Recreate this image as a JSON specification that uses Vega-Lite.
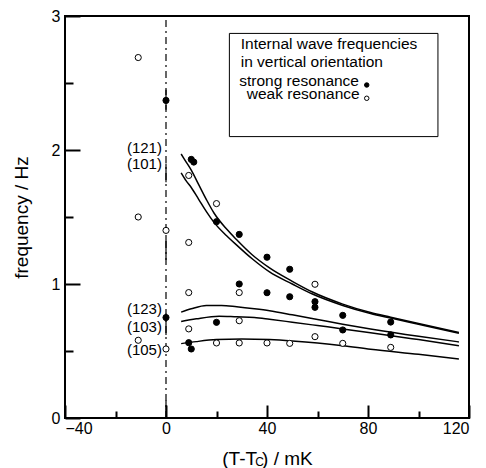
{
  "$schema": "https://vega.github.io/schema/vega-lite/v6.json",
  "width": 404,
  "height": 402,
  "autosize": {"type": "none"},
  "padding": {"left": 65, "top": 16, "right": 17, "bottom": 50},
  "background": "white",
  "config": {
    "view": {"stroke": "black", "strokeWidth": 2},
    "font": "Liberation Sans",
    "axis": {
      "labelFont": "Liberation Sans",
      "titleFont": "Liberation Sans",
      "labelColor": "black",
      "titleColor": "black",
      "titleFontWeight": "normal",
      "labelFontSize": 16,
      "titleFontSize": 19,
      "domainColor": "black",
      "domainWidth": 2,
      "tickColor": "black",
      "tickWidth": 2,
      "grid": false
    }
  },
  "resolve": {"axis": {"x": "independent", "y": "independent"}},
  "datasets": {
    "pts": [
      {"T": 0, "f": 2.37, "kind": "strong"},
      {"T": 10, "f": 1.93, "kind": "strong"},
      {"T": 11, "f": 1.91, "kind": "strong"},
      {"T": 20, "f": 1.465, "kind": "strong"},
      {"T": 29, "f": 1.37, "kind": "strong"},
      {"T": 40, "f": 1.2, "kind": "strong"},
      {"T": 49, "f": 1.11, "kind": "strong"},
      {"T": 29, "f": 1.0, "kind": "strong"},
      {"T": 40, "f": 0.935, "kind": "strong"},
      {"T": 49, "f": 0.905, "kind": "strong"},
      {"T": 59, "f": 0.868, "kind": "strong"},
      {"T": 59, "f": 0.826, "kind": "strong"},
      {"T": 70, "f": 0.766, "kind": "strong"},
      {"T": 89, "f": 0.716, "kind": "strong"},
      {"T": 0, "f": 0.75, "kind": "strong"},
      {"T": 20, "f": 0.714, "kind": "strong"},
      {"T": 70, "f": 0.657, "kind": "strong"},
      {"T": 89, "f": 0.62, "kind": "strong"},
      {"T": 9, "f": 0.562, "kind": "strong"},
      {"T": 10, "f": 0.515, "kind": "strong"},
      {"T": -11, "f": 2.69, "kind": "weak"},
      {"T": -11, "f": 1.5, "kind": "weak"},
      {"T": -11, "f": 0.58, "kind": "weak"},
      {"T": 0, "f": 1.4, "kind": "weak"},
      {"T": 0, "f": 0.515, "kind": "weak"},
      {"T": 9, "f": 1.81, "kind": "weak"},
      {"T": 9, "f": 1.31, "kind": "weak"},
      {"T": 9, "f": 0.936, "kind": "weak"},
      {"T": 9, "f": 0.665, "kind": "weak"},
      {"T": 20, "f": 1.6, "kind": "weak"},
      {"T": 20, "f": 0.56, "kind": "weak"},
      {"T": 29, "f": 0.936, "kind": "weak"},
      {"T": 29, "f": 0.726, "kind": "weak"},
      {"T": 29, "f": 0.56, "kind": "weak"},
      {"T": 40, "f": 0.56, "kind": "weak"},
      {"T": 49, "f": 0.557, "kind": "weak"},
      {"T": 59, "f": 0.998, "kind": "weak"},
      {"T": 59, "f": 0.607, "kind": "weak"},
      {"T": 70, "f": 0.557, "kind": "weak"},
      {"T": 89, "f": 0.527, "kind": "weak"}
    ],
    "curves": [
      {"c": "121", "T": 6, "f": 1.97}, {"c": "121", "T": 8, "f": 1.91}, {"c": "121", "T": 10, "f": 1.85},
      {"c": "121", "T": 13, "f": 1.74}, {"c": "121", "T": 16, "f": 1.63}, {"c": "121", "T": 19, "f": 1.53},
      {"c": "121", "T": 24, "f": 1.41}, {"c": "121", "T": 28, "f": 1.33}, {"c": "121", "T": 34, "f": 1.22},
      {"c": "121", "T": 41, "f": 1.12}, {"c": "121", "T": 50, "f": 1.02}, {"c": "121", "T": 58, "f": 0.94},
      {"c": "121", "T": 70, "f": 0.85}, {"c": "121", "T": 81, "f": 0.787}, {"c": "121", "T": 89, "f": 0.752},
      {"c": "121", "T": 100, "f": 0.705}, {"c": "121", "T": 116, "f": 0.638},
      {"c": "101", "T": 6, "f": 1.83}, {"c": "101", "T": 8, "f": 1.77}, {"c": "101", "T": 10, "f": 1.72},
      {"c": "101", "T": 13, "f": 1.63}, {"c": "101", "T": 16, "f": 1.54}, {"c": "101", "T": 19, "f": 1.46},
      {"c": "101", "T": 24, "f": 1.36}, {"c": "101", "T": 28, "f": 1.29}, {"c": "101", "T": 34, "f": 1.19},
      {"c": "101", "T": 41, "f": 1.09}, {"c": "101", "T": 50, "f": 1.0}, {"c": "101", "T": 58, "f": 0.925},
      {"c": "101", "T": 70, "f": 0.84}, {"c": "101", "T": 81, "f": 0.78}, {"c": "101", "T": 89, "f": 0.746},
      {"c": "101", "T": 100, "f": 0.7}, {"c": "101", "T": 116, "f": 0.633},
      {"c": "123", "T": 6, "f": 0.79}, {"c": "123", "T": 10, "f": 0.815}, {"c": "123", "T": 16, "f": 0.84},
      {"c": "123", "T": 22, "f": 0.84}, {"c": "123", "T": 28, "f": 0.83}, {"c": "123", "T": 35, "f": 0.815},
      {"c": "123", "T": 41, "f": 0.8}, {"c": "123", "T": 50, "f": 0.77}, {"c": "123", "T": 60, "f": 0.735},
      {"c": "123", "T": 70, "f": 0.7}, {"c": "123", "T": 81, "f": 0.665}, {"c": "123", "T": 100, "f": 0.61},
      {"c": "123", "T": 116, "f": 0.568},
      {"c": "103", "T": 6, "f": 0.72}, {"c": "103", "T": 12, "f": 0.74}, {"c": "103", "T": 21, "f": 0.76},
      {"c": "103", "T": 28, "f": 0.755}, {"c": "103", "T": 35, "f": 0.75}, {"c": "103", "T": 41, "f": 0.737},
      {"c": "103", "T": 50, "f": 0.715}, {"c": "103", "T": 60, "f": 0.69}, {"c": "103", "T": 70, "f": 0.665},
      {"c": "103", "T": 81, "f": 0.637}, {"c": "103", "T": 100, "f": 0.585}, {"c": "103", "T": 116, "f": 0.54},
      {"c": "105", "T": 6, "f": 0.555}, {"c": "105", "T": 12, "f": 0.57}, {"c": "105", "T": 20, "f": 0.585},
      {"c": "105", "T": 30, "f": 0.59}, {"c": "105", "T": 41, "f": 0.585}, {"c": "105", "T": 50, "f": 0.575},
      {"c": "105", "T": 60, "f": 0.56}, {"c": "105", "T": 70, "f": 0.54}, {"c": "105", "T": 81, "f": 0.513},
      {"c": "105", "T": 100, "f": 0.475}, {"c": "105", "T": 116, "f": 0.44}
    ],
    "clabels": [
      {"T": -1.6, "f": 2.015, "label": "(121)"},
      {"T": -1.6, "f": 1.895, "label": "(101)"},
      {"T": -1.6, "f": 0.81, "label": "(123)"},
      {"T": -1.6, "f": 0.68, "label": "(103)"},
      {"T": -1.6, "f": 0.51, "label": "(105)"}
    ],
    "vline": [{"T": 0, "f": 0, "f2": 3}],
    "vsolid": [
      {"T": 0, "f": 2.3, "f2": 2.45},
      {"T": 0, "f": 1.76, "f2": 1.9},
      {"T": 0, "f": 1.18, "f2": 1.35},
      {"T": 0, "f": 0.62, "f2": 0.78},
      {"T": 0, "f": 0.0, "f2": 0.13}
    ],
    "box": [{"T": 25.1, "T2": 107.7, "f": 2.1, "f2": 2.87}],
    "ltext": [
      {"T": 29.6, "f": 2.754, "label": "Internal wave frequencies"},
      {"T": 29.6, "f": 2.619, "label": "in vertical orientation"},
      {"T": 29.0, "f": 2.478, "label": "strong resonance"},
      {"T": 32.0, "f": 2.378, "label": "weak resonance"}
    ],
    "lsym": [
      {"T": 79.5, "f": 2.485, "kind": "strong"},
      {"T": 79.5, "f": 2.386, "kind": "weak"}
    ],
    "sub": [{"T": 37.1, "f": 0, "label": "C"}]
  },
  "encoding": {
    "x": {"field": "T", "type": "quantitative", "scale": {"domain": [-40, 120], "nice": false, "zero": false}, "axis": null},
    "y": {"field": "f", "type": "quantitative", "scale": {"domain": [0, 3], "nice": false}, "axis": null}
  },
  "layer": [
    {
      "data": {"name": "box"},
      "mark": {"type": "rect", "fill": "white", "stroke": "black", "strokeWidth": 1},
      "encoding": {
        "x": {
          "field": "T", "type": "quantitative",
          "axis": {
            "orient": "bottom",
            "title": "(T-T  ) / mK",
            "values": [-40, 0, 40, 80, 120],
            "format": "d",
            "domain": false,
            "offset": -13,
            "tickSize": 13,
            "labelPadding": 2,
            "titlePadding": 13,
            "zindex": 1
          }
        },
        "y": {
          "field": "f", "type": "quantitative",
          "axis": {
            "orient": "left",
            "title": "frequency / Hz",
            "values": [0, 1, 2, 3],
            "format": "d",
            "domain": false,
            "offset": -15,
            "tickSize": 15,
            "labelPadding": 5,
            "titlePadding": 20,
            "zindex": 1
          }
        },
        "x2": {"field": "T2"},
        "y2": {"field": "f2"}
      }
    },
    {
      "data": {"name": "vline"},
      "mark": {"type": "rule", "color": "black", "strokeWidth": 1.2, "strokeDash": [7, 4, 2, 4]},
      "encoding": {
        "x": {
          "field": "T", "type": "quantitative",
          "axis": {"orient": "bottom", "title": null, "values": [-20, 20, 60, 100], "labels": false, "domain": false, "offset": -7, "tickSize": 7, "zindex": 1}
        },
        "y": {
          "field": "f", "type": "quantitative",
          "axis": {"orient": "left", "title": null, "values": [0.5, 1.5, 2.5], "labels": false, "domain": false, "offset": -8, "tickSize": 8, "zindex": 1}
        },
        "y2": {"field": "f2"}
      }
    },
    {
      "data": {"name": "vsolid"},
      "mark": {"type": "rule", "color": "black", "strokeWidth": 1.2},
      "encoding": {"y2": {"field": "f2"}}
    },
    {
      "data": {"name": "curves"},
      "mark": {"type": "line", "color": "black", "strokeWidth": 1.5, "interpolate": "monotone"},
      "encoding": {"detail": {"field": "c"}, "order": {"field": "T", "type": "quantitative"}}
    },
    {
      "data": {"name": "pts"},
      "mark": {"type": "point", "shape": "circle", "size": 38, "stroke": "black", "strokeWidth": 1, "opacity": 1, "filled": false},
      "encoding": {
        "fill": {"field": "kind", "type": "nominal", "scale": {"domain": ["strong", "weak"], "range": ["black", "white"]}, "legend": null}
      }
    },
    {
      "data": {"name": "clabels"},
      "mark": {"type": "text", "align": "right", "baseline": "middle", "fontSize": 15, "font": "Liberation Sans", "color": "black"},
      "encoding": {"text": {"field": "label"}}
    },
    {
      "data": {"name": "ltext"},
      "mark": {"type": "text", "align": "left", "baseline": "alphabetic", "fontSize": 15.5, "font": "Liberation Sans", "color": "black"},
      "encoding": {"text": {"field": "label"}}
    },
    {
      "data": {"name": "lsym"},
      "mark": {"type": "point", "shape": "circle", "size": 20, "stroke": "black", "strokeWidth": 1, "opacity": 1, "filled": false},
      "encoding": {
        "fill": {"field": "kind", "type": "nominal", "scale": {"domain": ["strong", "weak"], "range": ["black", "white"]}, "legend": null}
      }
    },
    {
      "data": {"name": "sub"},
      "mark": {"type": "text", "align": "center", "baseline": "middle", "fontSize": 12, "font": "Liberation Sans", "color": "black", "dy": 44, "clip": false},
      "encoding": {"text": {"field": "label"}}
    }
  ]
}
